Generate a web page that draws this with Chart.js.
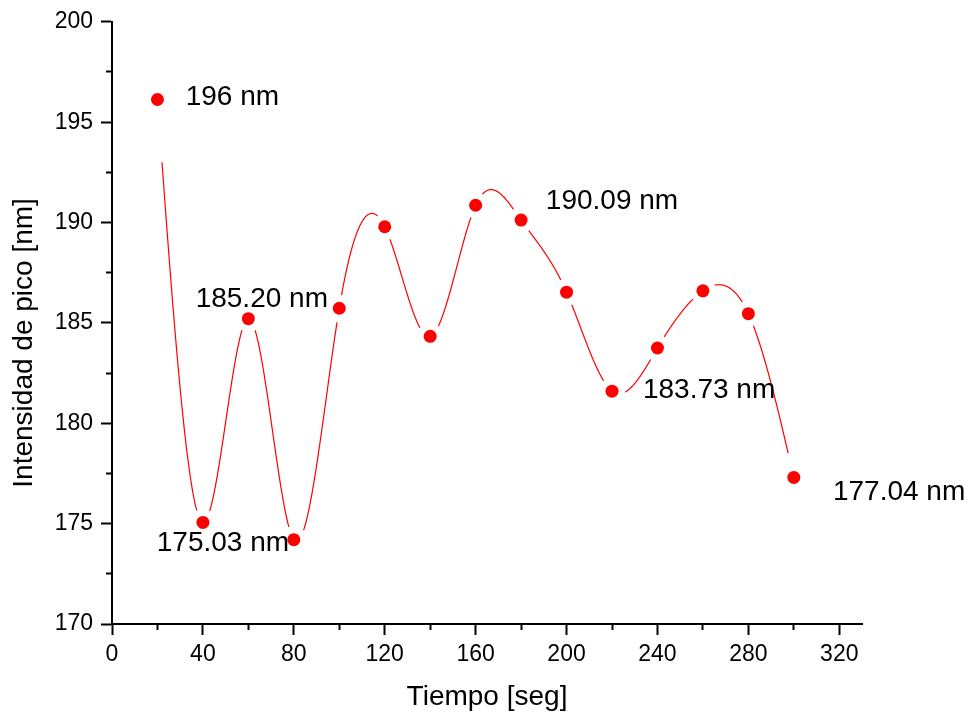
<!DOCTYPE html>
<html>
<head>
<meta charset="utf-8">
<script src="https://cdn.jsdelivr.net/npm/chart.js@4.4.1/dist/chart.umd.min.js"></script>
<style>
  html, body { margin: 0; padding: 0; background: #fff; }
  #wrap { width: 970px; height: 717px; }
</style>
</head>
<body>
<div id="wrap"><canvas id="chart" width="970" height="717"></canvas></div>
<script>
// datos
const tiempo = [20, 40, 60, 80, 100, 120, 140, 160, 180, 200, 220, 240, 260, 280, 300];
const intensidad = [196.13, 175.06, 185.21, 174.20, 185.73, 189.79, 184.33, 190.86, 190.12, 186.53, 181.60, 183.75, 186.60, 185.46, 177.30];

// etiquetas de texto (ancla en unidades de datos)
const etiquetas = ['196 nm', '185.20 nm', '175.03 nm', '190.09 nm', '183.73 nm', '177.04 nm'];
const etiquetaX = [32.4, 36.8, 19.7, 190.9, 233.6, 317.2];
const etiquetaY = [196.23, 186.19, 174.02, 191.07, 181.65, 176.55];

const FUENTE = "'Liberation Sans', Arial, sans-serif";

// spline cubico natural, devuelve coeficientes por tramo
function splineNatural(xs, ys) {
  const n = xs.length;
  const h = [], alpha = [];
  for (let i = 0; i < n - 1; i++) h.push(xs[i + 1] - xs[i]);
  const l = Array(n).fill(1), mu = Array(n).fill(0), z = Array(n).fill(0);
  for (let i = 1; i < n - 1; i++) {
    alpha[i] = 3 / h[i] * (ys[i + 1] - ys[i]) - 3 / h[i - 1] * (ys[i] - ys[i - 1]);
    l[i] = 2 * (xs[i + 1] - xs[i - 1]) - h[i - 1] * mu[i - 1];
    mu[i] = h[i] / l[i];
    z[i] = (alpha[i] - h[i - 1] * z[i - 1]) / l[i];
  }
  const b = [], c = Array(n).fill(0), d = [];
  for (let j = n - 2; j >= 0; j--) {
    c[j] = z[j] - mu[j] * c[j + 1];
    b[j] = (ys[j + 1] - ys[j]) / h[j] - h[j] * (c[j + 1] + 2 * c[j]) / 3;
    d[j] = (c[j + 1] - c[j]) / (3 * h[j]);
  }
  return (i, dx) => ys[i] + b[i] * dx + c[i] * dx * dx + d[i] * dx * dx * dx;
}

const curvaSpline = {
  id: 'curvaSpline',
  beforeDatasetsDraw(chart, args, opts) {
    const {ctx, scales: {x, y}} = chart;
    const f = splineNatural(tiempo, intensidad);
    const px = tiempo.map(v => x.getPixelForValue(v));
    const py = intensidad.map(v => y.getPixelForValue(v));
    ctx.save();
    ctx.strokeStyle = opts.color;
    ctx.lineWidth = opts.width;
    const n = tiempo.length;
    for (let i = 0; i < n - 1; i++) {
      const g0 = i === 0 ? opts.firstGap : opts.gap;
      const g1 = i === n - 2 ? opts.lastGap : opts.gap;
      const h = tiempo[i + 1] - tiempo[i];
      ctx.beginPath();
      let pen = false;
      for (let k = 0; k <= 200; k++) {
        const dx = h * k / 200;
        const sx = x.getPixelForValue(tiempo[i] + dx);
        const sy = y.getPixelForValue(f(i, dx));
        const ok = Math.hypot(sx - px[i], sy - py[i]) > g0 && Math.hypot(sx - px[i + 1], sy - py[i + 1]) > g1;
        if (ok) {
          if (pen) ctx.lineTo(sx, sy); else ctx.moveTo(sx, sy);
          pen = true;
        } else pen = false;
      }
      ctx.stroke();
    }
    ctx.restore();
  }
};

const textos = {
  id: 'textos',
  afterDatasetsDraw(chart) {
    const {ctx, scales: {x, y}} = chart;
    ctx.save();
    ctx.fillStyle = '#000';
    ctx.font = '28px ' + FUENTE;
    ctx.textAlign = 'left';
    ctx.textBaseline = 'middle';
    etiquetas.forEach((t, i) => {
      ctx.fillText(t, x.getPixelForValue(etiquetaX[i]), y.getPixelForValue(etiquetaY[i]));
    });
    ctx.restore();
  }
};

// en el original el titulo vertical esta algo mas abajo que el centro del eje
const bajarTitulo = {
  id: 'bajarTitulo',
  beforeDraw(chart, args, opts) {
    const s = chart.scales.y;
    if (s._movido) return;
    const orig = s.drawTitle;
    s.drawTitle = function () {
      this.ctx.save();
      this.ctx.translate(0, opts.dy);
      orig.apply(this, arguments);
      this.ctx.restore();
    };
    s._movido = true;
  }
};

new Chart(document.getElementById('chart'), {
  type: 'scatter',
  data: {
    datasets: [{
      data: tiempo.map((t, i) => ({x: t, y: intensidad[i]})),
      backgroundColor: '#ff0000',
      borderWidth: 0,
      pointRadius: 6.5,
      showLine: false
    }]
  },
  options: {
    responsive: false,
    animation: false,
    devicePixelRatio: 1,
    layout: { padding: { top: 19, right: 108, left: 0, bottom: 0 } },
    plugins: {
      legend: { display: false },
      tooltip: { enabled: false },
      curvaSpline: { color: '#ff0000', width: 1.2, gap: 13, firstGap: 62, lastGap: 25 },
      bajarTitulo: { dy: 20 }
    },
    scales: {
      x: {
        type: 'linear',
        min: 0, max: 330,
        afterFit: s => { s.height = 93; },
        ticks: {
          stepSize: 20,
          includeBounds: false,
          autoSkip: false,
          maxRotation: 0,
          padding: 6,
          color: '#000',
          font: { family: FUENTE, size: 23 },
          callback: v => (v % 40 === 0 ? v : '')
        },
        grid: {
          drawOnChartArea: false,
          tickLength: 11,
          tickWidth: 2,
          tickColor: '#000',
          tickBorderDash: ctx => (ctx.tick && ctx.tick.value % 40 !== 0 ? [5, 100] : [])
        },
        border: { display: true, color: '#000', width: 2 },
        title: {
          display: true,
          text: 'Tiempo [seg]',
          color: '#000',
          font: { family: FUENTE, size: 28 },
          padding: { top: 0, bottom: 3 }
        }
      },
      y: {
        min: 170, max: 200,
        afterFit: s => { s.width = 112; },
        ticks: {
          stepSize: 2.5,
          autoSkip: false,
          padding: 8,
          color: '#000',
          font: { family: FUENTE, size: 23 },
          callback: v => (v % 5 === 0 ? v : '')
        },
        grid: {
          drawOnChartArea: false,
          tickLength: 11,
          tickWidth: 2,
          tickColor: '#000',
          tickBorderDash: ctx => (ctx.tick && ctx.tick.value % 5 !== 0 ? [0, 5, 5, 100] : [])
        },
        border: { display: true, color: '#000', width: 2 },
        title: {
          display: true,
          text: 'Intensidad de pico [nm]',
          color: '#000',
          font: { family: FUENTE, size: 28 },
          padding: { top: 7, bottom: 0 }
        }
      }
    }
  },
  plugins: [curvaSpline, textos, bajarTitulo]
});
</script>
</body>
</html>
